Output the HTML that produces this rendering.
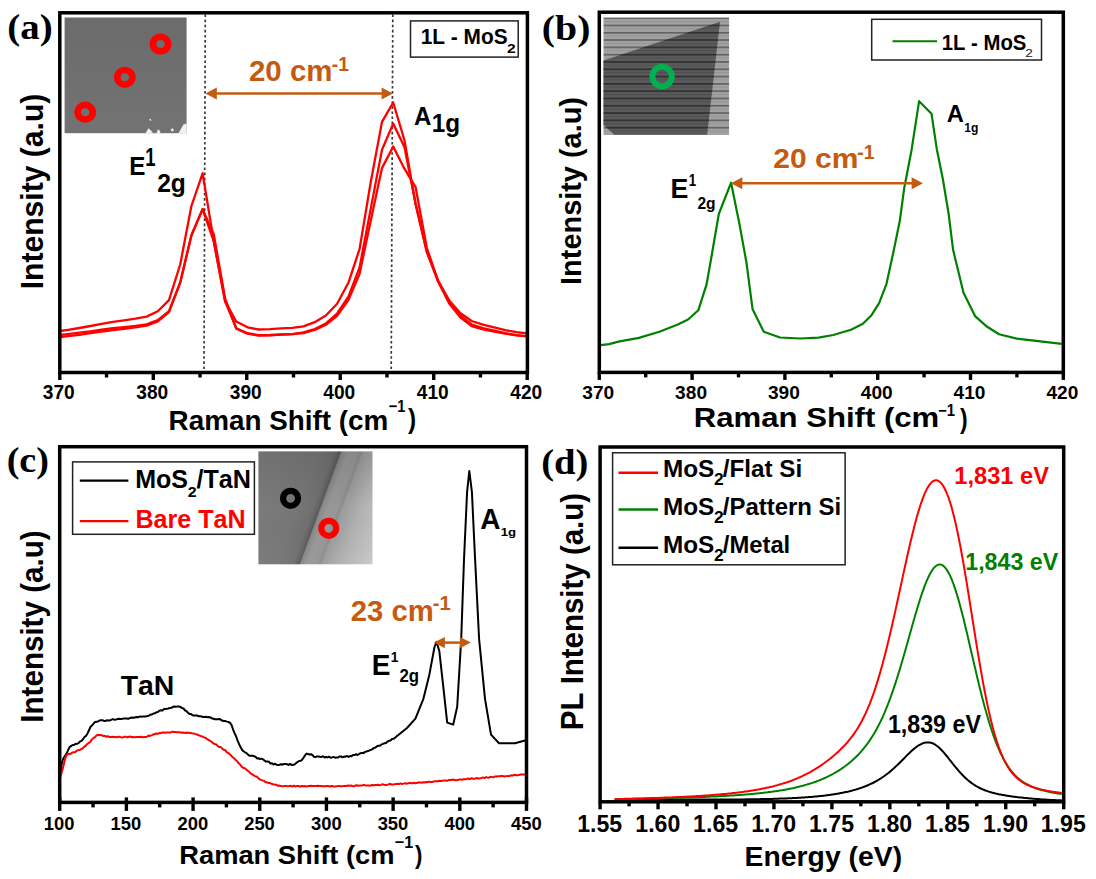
<!DOCTYPE html>
<html><head><meta charset="utf-8"><style>
html,body{margin:0;padding:0;background:#fff;}
body{width:1096px;height:879px;overflow:hidden;}
svg{display:block;font-kerning:none;}
text{font-kerning:none;}
</style></head><body>
<svg width="1096" height="879" viewBox="0 0 1096 879">
<defs>
<pattern id="stripes" patternUnits="userSpaceOnUse" x="0" y="17.3" width="8" height="7.3">
<rect width="8" height="7.3" fill="#5a5a5a"/><rect y="0" width="8" height="1.7" fill="#303030"/><rect y="3.7" width="8" height="1.0" fill="#4e4e4e"/>
</pattern>
<pattern id="stripesL" patternUnits="userSpaceOnUse" x="0" y="17.3" width="8" height="7.3">
<rect width="8" height="7.3" fill="#a2a2a2"/><rect y="0" width="8" height="1.7" fill="#626262"/><rect y="3.7" width="8" height="1.0" fill="#939393"/>
</pattern>
<linearGradient id="ga" x1="0" y1="0" x2="0" y2="1"><stop offset="0" stop-color="#6b6b6b"/><stop offset="1" stop-color="#737373"/></linearGradient>
<linearGradient id="gc" gradientUnits="userSpaceOnUse" x1="265.3" y1="423.9" x2="406.1" y2="475.5"><stop offset="0.0000" stop-color="rgb(126,126,126)"/><stop offset="0.2000" stop-color="rgb(122,122,122)"/><stop offset="0.4000" stop-color="rgb(118,118,118)"/><stop offset="0.4933" stop-color="rgb(112,112,112)"/><stop offset="0.5233" stop-color="rgb(98,98,98)"/><stop offset="0.5333" stop-color="rgb(88,88,88)"/><stop offset="0.5433" stop-color="rgb(136,136,136)"/><stop offset="0.5867" stop-color="rgb(152,152,152)"/><stop offset="0.6467" stop-color="rgb(150,150,150)"/><stop offset="0.6633" stop-color="rgb(140,140,140)"/><stop offset="0.6800" stop-color="rgb(156,156,156)"/><stop offset="0.8000" stop-color="rgb(178,178,178)"/><stop offset="1.0000" stop-color="rgb(202,202,202)"/></linearGradient>
<linearGradient id="gcv" x1="0" y1="0" x2="0" y2="1"><stop offset="0" stop-color="#000" stop-opacity="0.10"/><stop offset="0.5" stop-color="#000" stop-opacity="0"/><stop offset="1" stop-color="#fff" stop-opacity="0.03"/></linearGradient>
</defs>
<rect width="1096" height="879" fill="#fff"/>
<rect x="64.6" y="17.5" width="122" height="115.7" fill="url(#ga)"/>
<path d="M145.5,133.2 L148.5,128.2 L151,130.5 L153,133.2 Z M156.5,133.2 L158,129.3 L160,131 L160.5,133.2 Z M170.5,130 L172.5,128 L174,130.5 L172,131.5 Z M178.5,133.2 L183.5,124.5 L186.6,123.5 L186.6,133.2 Z M149,120 L150.5,118.5 L151.5,121 Z" fill="#fff" opacity="0.9"/>
<ellipse cx="160.50" cy="44.10" rx="7.60" ry="7.30" fill="none" stroke="#FF0000" stroke-width="6.6"/>
<ellipse cx="124.80" cy="77.30" rx="7.60" ry="7.30" fill="none" stroke="#FF0000" stroke-width="6.6"/>
<ellipse cx="85.20" cy="112.20" rx="7.60" ry="7.30" fill="none" stroke="#FF0000" stroke-width="6.6"/>
<line x1="205.30" y1="14.50" x2="204.00" y2="371.00" stroke="#3a3a3a" stroke-width="1.7" stroke-dasharray="2.6,2.5"/>
<line x1="392.80" y1="14.50" x2="391.20" y2="371.00" stroke="#3a3a3a" stroke-width="1.7" stroke-dasharray="2.6,2.5"/>
<polyline points="59.8,331.0 68.1,329.8 79.3,328.0 90.5,326.0 101.7,323.8 113.0,321.9 124.2,320.3 135.4,318.7 146.6,316.6 157.8,311.2 169.0,300.1 180.2,264.5 191.4,206.0 202.6,173.3 213.8,241.4 225.1,301.4 236.3,321.6 247.5,327.3 258.7,329.5 269.9,329.1 281.1,328.4 292.3,327.8 303.5,326.4 314.7,322.2 325.9,315.5 337.1,303.8 348.4,282.8 359.6,248.9 370.8,181.8 382.0,121.9 393.2,102.5 404.4,140.0 415.6,204.0 426.8,251.4 438.0,280.2 449.2,300.4 460.5,313.2 471.7,321.0 482.9,324.7 494.1,327.3 505.3,330.1 516.5,332.2 527.4,333.5" fill="none" stroke="#FF0000" stroke-width="2.3" stroke-linejoin="round" />
<polyline points="59.8,335.0 68.1,334.1 79.3,332.7 90.5,331.3 101.7,329.7 113.0,328.2 124.2,327.1 135.4,325.9 146.6,324.3 157.8,320.1 169.0,311.1 180.2,282.3 191.4,235.3 202.6,209.1 213.8,241.4 225.1,301.4 236.3,328.2 247.5,333.2 258.7,335.2 269.9,335.0 281.1,334.5 292.3,334.1 303.5,332.4 314.7,329.1 325.9,323.4 337.1,313.5 348.4,296.6 359.6,267.4 370.8,208.4 382.0,149.8 393.2,123.6 404.4,146.9 415.6,203.7 426.8,252.0 438.0,281.3 449.2,302.3 460.5,315.7 471.7,324.5 482.9,328.2 494.1,330.6 505.3,333.1 516.5,335.1 527.4,336.3" fill="none" stroke="#FF0000" stroke-width="2.3" stroke-linejoin="round" />
<polyline points="59.8,337.2 68.1,336.2 79.3,334.8 90.5,333.2 101.7,331.5 113.0,330.0 124.2,328.8 135.4,327.4 146.6,325.7 157.8,321.4 169.0,312.1 180.2,282.9 191.4,235.5 202.6,209.1 213.8,234.5 225.1,298.3 236.3,328.7 247.5,333.7 258.7,335.6 269.9,335.3 281.1,334.7 292.3,334.2 303.5,333.1 314.7,330.0 325.9,324.8 337.1,315.8 348.4,300.1 359.6,273.7 370.8,220.3 382.0,168.1 393.2,146.5 404.4,168.7 415.6,187.2 426.8,247.8 438.0,280.9 449.2,303.6 460.5,317.6 471.7,326.1 482.9,329.4 494.1,331.5 505.3,333.6 516.5,335.4 527.4,336.4" fill="none" stroke="#FF0000" stroke-width="2.3" stroke-linejoin="round" />
<rect x="59.80" y="12.80" width="467.60" height="359.70" fill="none" stroke="#000" stroke-width="3.5"/>
<line x1="59.80" y1="372.50" x2="59.80" y2="380.00" stroke="#000" stroke-width="3.4"/>
<line x1="153.28" y1="372.50" x2="153.28" y2="380.00" stroke="#000" stroke-width="3.4"/>
<line x1="246.76" y1="372.50" x2="246.76" y2="380.00" stroke="#000" stroke-width="3.4"/>
<line x1="340.24" y1="372.50" x2="340.24" y2="380.00" stroke="#000" stroke-width="3.4"/>
<line x1="433.72" y1="372.50" x2="433.72" y2="380.00" stroke="#000" stroke-width="3.4"/>
<line x1="527.20" y1="372.50" x2="527.20" y2="380.00" stroke="#000" stroke-width="3.4"/>
<line x1="106.54" y1="372.50" x2="106.54" y2="377.50" stroke="#000" stroke-width="3.4"/>
<line x1="200.02" y1="372.50" x2="200.02" y2="377.50" stroke="#000" stroke-width="3.4"/>
<line x1="293.50" y1="372.50" x2="293.50" y2="377.50" stroke="#000" stroke-width="3.4"/>
<line x1="386.98" y1="372.50" x2="386.98" y2="377.50" stroke="#000" stroke-width="3.4"/>
<line x1="480.46" y1="372.50" x2="480.46" y2="377.50" stroke="#000" stroke-width="3.4"/>
<text transform="translate(43.25,398.50) scale(0.9824,1)" x="-0.45" y="0" font-size="19.48" font-family='"Liberation Sans", sans-serif' font-weight="bold" fill="#000">370</text>
<text transform="translate(136.73,398.50) scale(0.9824,1)" x="-0.45" y="0" font-size="19.48" font-family='"Liberation Sans", sans-serif' font-weight="bold" fill="#000">380</text>
<text transform="translate(230.21,398.50) scale(0.9824,1)" x="-0.45" y="0" font-size="19.48" font-family='"Liberation Sans", sans-serif' font-weight="bold" fill="#000">390</text>
<text transform="translate(323.62,398.50) scale(0.9824,1)" x="-0.29" y="0" font-size="19.48" font-family='"Liberation Sans", sans-serif' font-weight="bold" fill="#000">400</text>
<text transform="translate(417.10,398.50) scale(0.9824,1)" x="-0.29" y="0" font-size="19.48" font-family='"Liberation Sans", sans-serif' font-weight="bold" fill="#000">410</text>
<text transform="translate(510.58,398.50) scale(0.9824,1)" x="-0.29" y="0" font-size="19.48" font-family='"Liberation Sans", sans-serif' font-weight="bold" fill="#000">420</text>
<text transform="translate(9.00,38.80) scale(1.0769,1)" x="-1.59" y="0" font-size="36.17" font-family='"Liberation Serif", serif' font-weight="bold" fill="#000">(a)</text>
<text transform="translate(42.60,287.30) rotate(-90) scale(0.9776,1)" x="-2.06" y="0" font-size="30.81" font-family='"Liberation Sans", sans-serif' font-weight="bold" fill="#000">Intensity (a.u)</text>
<text transform="translate(170.40,429.50) scale(1.0249,1)" x="-1.82" y="0" font-size="27.18" font-family='"Liberation Sans", sans-serif' font-weight="bold" fill="#000">Raman Shift (cm</text>
<text transform="translate(389.30,412.10) scale(0.8792,1)" x="-0.69" y="0" font-size="16.57" font-family='"Liberation Sans", sans-serif' font-weight="bold" fill="#000">−1</text>
<text transform="translate(408.00,428.43) scale(0.9116,1)" x="-0.03" y="0" font-size="26.82" font-family='"Liberation Sans", sans-serif' font-weight="bold" fill="#000">)</text>
<line x1="215.80" y1="93.50" x2="382.60" y2="93.50" stroke="#C55A11" stroke-width="2.5"/>
<path d="M205.40,93.50 L216.80,87.50 L216.80,99.50 Z" fill="#C55A11"/>
<path d="M393.00,93.50 L381.60,87.50 L381.60,99.50 Z" fill="#C55A11"/>
<text transform="translate(250.00,81.30) scale(1.0135,1)" x="-1.01" y="0" font-size="29.07" font-family='"Liberation Sans", sans-serif' font-weight="bold" fill="#C55A11">20 cm</text>
<text transform="translate(332.50,70.90) scale(0.9711,1)" x="-0.78" y="0" font-size="19.91" font-family='"Liberation Sans", sans-serif' font-weight="bold" fill="#C55A11">-1</text>
<rect x="410.5" y="20.9" width="107.7" height="36.2" fill="#fff" stroke="#222" stroke-width="1.5"/>
<text transform="translate(422.00,44.30) scale(0.9506,1)" x="-1.38" y="0" font-size="21.95" font-family='"Liberation Sans", sans-serif' font-weight="bold" fill="#000">1L - MoS</text>
<text transform="translate(507.50,53.00) scale(1.1450,1)" x="-0.47" y="0" font-size="13.61" font-family='"Liberation Sans", sans-serif' font-weight="bold" fill="#000">2</text>
<text transform="translate(130.90,175.40) scale(0.9317,1)" x="-1.74" y="0" font-size="26.02" font-family='"Liberation Sans", sans-serif' font-weight="bold" fill="#000">E</text>
<text transform="translate(146.30,166.30) scale(0.7266,1)" x="-1.60" y="0" font-size="25.44" font-family='"Liberation Sans", sans-serif' font-weight="bold" fill="#000">1</text>
<text transform="translate(158.00,191.80) scale(0.9812,1)" x="-0.87" y="0" font-size="25.06" font-family='"Liberation Sans", sans-serif' font-weight="bold" fill="#000">2g</text>
<text transform="translate(414.60,125.30) scale(0.9599,1)" x="-0.62" y="0" font-size="25.00" font-family='"Liberation Sans", sans-serif' font-weight="bold" fill="#000">A</text>
<text transform="translate(433.20,131.50) scale(0.9719,1)" x="-1.57" y="0" font-size="25.00" font-family='"Liberation Sans", sans-serif' font-weight="bold" fill="#000">1g</text>
<rect x="603.5" y="17.5" width="125.6" height="117.1" fill="url(#stripesL)"/>
<path d="M603.5,60.5 L720,21.8 L707.2,134.6 L614,134.6 L603.5,125 Z" fill="url(#stripes)"/>
<circle cx="662.10" cy="76.50" r="9.70" fill="none" stroke="#00B050" stroke-width="6"/>
<polyline points="600.5,345.1 609.2,344.1 618.4,341.6 638.9,337.9 659.4,331.8 677.8,324.6 688.1,319.5 698.3,310.3 706.5,284.7 711.6,256.0 718.8,214.0 731.1,182.7 739.3,223.2 746.4,262.2 752.6,309.3 763.8,331.8 780.0,337.5 800.0,338.5 818.5,337.6 833.3,335.0 851.0,329.7 862.9,323.8 871.7,314.9 879.1,303.1 886.5,283.8 893.9,249.8 899.9,220.2 904.3,187.7 911.7,149.2 919.1,101.2 931.5,113.7 936.8,149.2 942.8,178.8 948.7,214.3 953.1,249.8 963.5,292.7 975.3,316.4 987.2,326.8 999.0,334.2 1016.8,338.6 1061.8,343.9" fill="none" stroke="#008000" stroke-width="2.2" stroke-linejoin="round" />
<rect x="599.30" y="12.20" width="464.00" height="360.20" fill="none" stroke="#000" stroke-width="3.5"/>
<line x1="599.30" y1="372.40" x2="599.30" y2="379.90" stroke="#000" stroke-width="3.4"/>
<line x1="692.10" y1="372.40" x2="692.10" y2="379.90" stroke="#000" stroke-width="3.4"/>
<line x1="784.90" y1="372.40" x2="784.90" y2="379.90" stroke="#000" stroke-width="3.4"/>
<line x1="877.70" y1="372.40" x2="877.70" y2="379.90" stroke="#000" stroke-width="3.4"/>
<line x1="970.50" y1="372.40" x2="970.50" y2="379.90" stroke="#000" stroke-width="3.4"/>
<line x1="1063.30" y1="372.40" x2="1063.30" y2="379.90" stroke="#000" stroke-width="3.4"/>
<line x1="645.70" y1="372.40" x2="645.70" y2="377.40" stroke="#000" stroke-width="3.4"/>
<line x1="738.50" y1="372.40" x2="738.50" y2="377.40" stroke="#000" stroke-width="3.4"/>
<line x1="831.30" y1="372.40" x2="831.30" y2="377.40" stroke="#000" stroke-width="3.4"/>
<line x1="924.10" y1="372.40" x2="924.10" y2="377.40" stroke="#000" stroke-width="3.4"/>
<line x1="1016.90" y1="372.40" x2="1016.90" y2="377.40" stroke="#000" stroke-width="3.4"/>
<text transform="translate(582.75,398.50) scale(1.0688,1)" x="-0.41" y="0" font-size="17.90" font-family='"Liberation Sans", sans-serif' font-weight="bold" fill="#000">370</text>
<text transform="translate(675.55,398.50) scale(1.0688,1)" x="-0.41" y="0" font-size="17.90" font-family='"Liberation Sans", sans-serif' font-weight="bold" fill="#000">380</text>
<text transform="translate(768.35,398.50) scale(1.0688,1)" x="-0.41" y="0" font-size="17.90" font-family='"Liberation Sans", sans-serif' font-weight="bold" fill="#000">390</text>
<text transform="translate(861.08,398.50) scale(1.0688,1)" x="-0.27" y="0" font-size="17.90" font-family='"Liberation Sans", sans-serif' font-weight="bold" fill="#000">400</text>
<text transform="translate(953.88,398.50) scale(1.0688,1)" x="-0.27" y="0" font-size="17.90" font-family='"Liberation Sans", sans-serif' font-weight="bold" fill="#000">410</text>
<text transform="translate(1046.68,398.50) scale(1.0688,1)" x="-0.27" y="0" font-size="17.90" font-family='"Liberation Sans", sans-serif' font-weight="bold" fill="#000">420</text>
<text transform="translate(543.60,39.89) scale(1.1242,1)" x="-1.55" y="0" font-size="35.29" font-family='"Liberation Serif", serif' font-weight="bold" fill="#000">(b)</text>
<text transform="translate(581.20,283.00) rotate(-90) scale(0.9658,1)" x="-2.00" y="0" font-size="29.94" font-family='"Liberation Sans", sans-serif' font-weight="bold" fill="#000">Intensity (a.u)</text>
<text transform="translate(695.80,427.10) scale(1.1576,1)" x="-1.80" y="0" font-size="26.89" font-family='"Liberation Sans", sans-serif' font-weight="bold" fill="#000">Raman Shift (cm</text>
<text transform="translate(938.70,415.50) scale(0.9372,1)" x="-0.66" y="0" font-size="15.84" font-family='"Liberation Sans", sans-serif' font-weight="bold" fill="#000">−1</text>
<text transform="translate(960.00,427.98) scale(0.8353,1)" x="-0.03" y="0" font-size="27.57" font-family='"Liberation Sans", sans-serif' font-weight="bold" fill="#000">)</text>
<line x1="741.30" y1="183.20" x2="912.60" y2="183.20" stroke="#C55A11" stroke-width="2.5"/>
<path d="M730.90,183.20 L742.30,177.20 L742.30,189.20 Z" fill="#C55A11"/>
<path d="M923.00,183.20 L911.60,177.20 L911.60,189.20 Z" fill="#C55A11"/>
<text transform="translate(774.30,168.30) scale(1.0692,1)" x="-0.97" y="0" font-size="28.07" font-family='"Liberation Sans", sans-serif' font-weight="bold" fill="#C55A11">20 cm</text>
<text transform="translate(858.00,158.50) scale(0.9916,1)" x="-0.77" y="0" font-size="19.62" font-family='"Liberation Sans", sans-serif' font-weight="bold" fill="#C55A11">-1</text>
<rect x="871.7" y="19.3" width="169.8" height="40.7" fill="#fff" stroke="#222" stroke-width="1.5"/>
<line x1="892.50" y1="41.20" x2="937.00" y2="41.20" stroke="#008000" stroke-width="2" />
<text transform="translate(943.00,49.60) scale(0.9321,1)" x="-1.37" y="0" font-size="21.80" font-family='"Liberation Sans", sans-serif' font-weight="bold" fill="#000">1L - MoS</text>
<text transform="translate(1026.00,56.80) scale(1.2504,1)" x="-0.55" y="0" font-size="10.88" font-family='"Liberation Sans", sans-serif' font-weight="normal" fill="#222">2</text>
<text transform="translate(672.40,198.30) scale(0.9681,1)" x="-1.85" y="0" font-size="27.62" font-family='"Liberation Sans", sans-serif' font-weight="bold" fill="#000">E</text>
<text transform="translate(689.60,185.50) scale(0.8112,1)" x="-1.03" y="0" font-size="16.42" font-family='"Liberation Sans", sans-serif' font-weight="bold" fill="#000">1</text>
<text transform="translate(698.00,208.50) scale(0.9627,1)" x="-0.56" y="0" font-size="16.18" font-family='"Liberation Sans", sans-serif' font-weight="bold" fill="#000">2g</text>
<text transform="translate(947.40,121.60) scale(1.0127,1)" x="-0.58" y="0" font-size="23.40" font-family='"Liberation Sans", sans-serif' font-weight="bold" fill="#000">A</text>
<text transform="translate(965.10,131.60) scale(1.0112,1)" x="-0.75" y="0" font-size="11.92" font-family='"Liberation Sans", sans-serif' font-weight="bold" fill="#000">1g</text>
<rect x="258.4" y="451.4" width="114.1" height="112.9" fill="url(#gc)"/>
<rect x="258.4" y="451.4" width="114.1" height="112.9" fill="url(#gcv)"/>
<circle cx="290.60" cy="498.30" r="7.50" fill="none" stroke="#000" stroke-width="6.2"/>
<circle cx="328.80" cy="528.30" r="7.50" fill="none" stroke="#FF0000" stroke-width="6.2"/>
<polyline points="60.5,772.1 62.0,762.3 63.5,758.0 65.0,755.9 66.5,753.4 68.0,750.4 69.5,747.1 71.0,746.1 72.5,745.1 74.0,745.0 75.5,743.9 77.0,743.8 78.5,743.1 80.0,741.5 81.5,740.9 83.0,739.3 84.5,737.0 86.0,735.9 87.5,733.4 89.0,730.3 90.5,726.8 92.0,725.4 93.5,723.6 95.0,722.0 96.5,721.7 98.0,721.5 99.5,720.5 101.0,720.2 102.5,720.3 104.0,720.9 105.5,720.9 107.0,720.3 108.5,720.6 110.0,720.4 111.5,719.6 113.0,719.1 114.5,719.7 116.0,719.5 117.5,719.1 119.0,718.8 120.5,718.9 122.0,718.9 123.5,718.5 125.0,718.4 126.5,718.4 128.0,718.9 129.5,718.3 131.0,717.8 132.5,717.6 134.0,717.7 135.5,717.2 137.0,717.0 138.5,717.2 140.0,716.4 141.5,716.8 143.0,716.4 144.5,716.6 146.0,716.4 147.5,716.0 149.0,715.6 150.5,714.6 152.0,714.5 153.5,713.5 155.0,713.2 156.5,712.3 158.0,711.9 159.5,710.6 161.0,710.2 162.5,710.6 164.0,708.9 165.5,709.1 167.0,708.7 168.5,708.5 170.0,707.9 171.5,707.8 173.0,706.8 174.5,706.6 176.0,706.7 177.5,706.5 179.0,706.5 180.5,706.9 182.0,708.1 183.5,708.4 185.0,710.3 186.5,711.2 188.0,712.7 189.5,714.1 191.0,713.9 192.5,715.3 194.0,715.5 195.5,715.6 197.0,715.5 198.5,716.2 200.0,716.3 201.5,716.4 203.0,717.0 204.5,716.9 206.0,716.8 207.5,717.3 209.0,717.1 210.5,717.4 212.0,718.4 213.5,718.7 215.0,719.2 216.5,719.3 218.0,719.2 219.5,718.9 221.0,719.8 222.5,720.8 224.0,721.1 225.5,721.1 227.0,721.6 228.5,722.0 230.0,722.8 231.5,724.8 233.0,729.3 234.5,733.0 236.0,736.2 237.5,740.3 239.0,743.8 240.5,747.1 242.0,749.7 243.5,751.2 245.0,752.3 246.5,753.1 248.0,754.6 249.5,755.8 251.0,755.8 252.5,755.8 254.0,756.3 255.5,756.8 257.0,758.4 258.5,758.2 260.0,759.1 261.5,758.6 263.0,759.3 264.5,760.6 266.0,761.6 267.5,761.5 269.0,761.8 270.5,763.5 272.0,763.3 273.5,764.4 275.0,763.8 276.5,764.7 278.0,764.9 279.5,764.7 281.0,764.2 282.5,764.7 284.0,763.9 285.5,764.1 287.0,764.3 288.5,764.9 290.0,763.9 291.5,764.9 293.0,764.7 294.5,764.6 296.0,763.1 297.5,762.0 299.0,761.0 300.5,760.8 302.0,759.9 303.5,757.7 305.0,755.4 306.5,753.6 308.0,754.0 309.5,754.5 311.0,754.2 312.5,755.2 314.0,756.8 315.5,757.1 317.0,756.4 318.5,756.4 320.0,756.7 321.5,756.9 323.0,756.3 324.5,757.4 326.0,757.0 327.5,757.4 329.0,756.7 330.5,757.7 332.0,757.4 333.5,756.9 335.0,757.7 336.5,757.4 338.0,757.6 339.5,756.5 341.0,756.4 342.5,757.3 344.0,756.6 345.5,756.7 347.0,756.0 348.5,756.9 350.0,756.0 351.5,756.2 353.0,754.9 354.5,755.1 356.0,754.2 357.5,755.0 359.0,754.1 360.5,753.2 362.0,752.9 363.5,753.1 365.0,751.9 366.5,751.4 368.0,751.1 369.5,750.4 371.0,749.8 372.5,749.1 374.0,747.9 375.5,747.5 377.0,746.2 378.5,745.7 380.0,745.8 381.5,744.4 383.0,743.9 384.5,743.3 386.0,743.0 387.5,741.6 389.0,740.8 390.5,740.5 392.0,739.1 393.5,738.8 395.0,737.9 396.5,736.4 398.0,735.3 407.0,728.0 415.4,718.7 423.4,698.8 429.3,674.9 434.5,647.0 436.5,641.9 439.3,651.0 443.3,686.8 447.2,722.6 453.2,724.6 457.2,706.7 461.2,639.1 464.0,559.5 467.1,491.8 469.3,471.0 471.9,491.8 475.1,559.5 479.1,639.1 485.0,698.8 491.0,734.6 499.0,743.3 514.9,743.3 525.0,740.5" fill="none" stroke="#000" stroke-width="2.0" stroke-linejoin="round" />
<polyline points="60.0,777.9 61.5,772.7 63.0,767.9 64.5,761.3 66.0,756.0 67.5,754.3 69.0,753.8 70.5,753.9 72.0,752.8 73.5,752.3 75.0,752.2 76.5,751.0 78.0,750.2 79.5,750.1 81.0,749.2 82.5,748.5 84.0,746.8 85.5,746.0 87.0,744.2 88.5,743.1 90.0,742.2 91.5,739.9 93.0,738.4 94.5,737.4 96.0,736.1 97.5,734.8 99.0,735.0 100.5,735.1 102.0,735.3 103.5,736.1 105.0,735.9 106.5,736.8 108.0,736.2 109.5,737.1 111.0,736.9 112.5,736.8 114.0,737.0 115.5,736.9 117.0,737.2 118.5,736.6 120.0,737.0 121.5,737.4 123.0,737.4 124.5,736.7 126.0,736.8 127.5,737.4 129.0,736.8 130.5,736.6 132.0,737.2 133.5,736.9 135.0,737.2 136.5,737.0 138.0,737.0 139.5,736.9 141.0,736.8 142.5,737.4 144.0,737.0 145.5,736.9 147.0,736.7 148.5,735.6 150.0,735.9 151.5,735.4 153.0,734.6 154.5,734.3 156.0,733.5 157.5,733.9 159.0,733.1 160.5,733.2 162.0,732.6 163.5,732.4 165.0,732.7 166.5,732.4 168.0,732.5 169.5,732.4 171.0,732.5 172.5,731.6 174.0,732.1 175.5,732.1 177.0,732.2 178.5,732.2 180.0,732.3 181.5,732.7 183.0,732.4 184.5,732.7 186.0,733.0 187.5,732.5 189.0,733.0 190.5,732.9 192.0,733.2 193.5,733.4 195.0,733.9 196.5,734.3 198.0,735.0 199.5,735.5 201.0,736.2 202.5,736.4 204.0,737.5 205.5,737.8 207.0,739.1 208.5,739.9 210.0,740.9 211.5,741.6 213.0,743.2 214.5,744.0 216.0,744.3 217.5,745.7 219.0,747.0 220.5,747.0 222.0,748.3 223.5,749.7 225.0,750.0 226.5,751.8 228.0,752.8 229.5,754.1 231.0,755.3 232.5,757.2 234.0,758.1 235.5,759.9 237.0,761.0 238.5,763.1 240.0,764.4 241.5,766.4 243.0,767.7 244.5,768.1 246.0,769.2 247.5,770.5 249.0,771.7 250.5,773.4 252.0,774.2 253.5,775.2 255.0,776.1 256.5,776.5 258.0,777.8 259.5,779.3 261.0,779.9 262.5,780.4 264.0,780.8 265.5,782.2 267.0,782.3 268.5,783.0 270.0,783.1 271.5,783.7 273.0,784.2 274.5,784.6 276.0,784.7 277.5,785.7 279.0,785.5 280.5,786.1 282.0,786.2 283.5,786.3 285.0,785.9 286.5,785.9 288.0,786.4 289.5,786.0 291.0,785.8 292.5,786.5 294.0,785.6 295.5,786.5 297.0,785.9 298.5,786.0 300.0,786.6 301.5,786.0 303.0,786.3 304.5,786.0 306.0,786.5 307.5,786.3 309.0,786.1 310.5,785.7 312.0,786.0 313.5,786.1 315.0,785.9 316.5,786.1 318.0,785.8 319.5,786.1 321.0,786.1 322.5,786.3 324.0,786.3 325.5,786.3 327.0,786.0 328.5,786.1 330.0,786.5 331.5,786.0 333.0,786.3 334.5,786.6 336.0,786.5 337.5,786.1 339.0,785.9 340.5,786.2 342.0,786.2 343.5,786.1 345.0,785.9 346.5,786.0 348.0,785.5 349.5,785.7 351.0,785.5 352.5,786.0 354.0,786.3 355.5,785.4 357.0,785.3 358.5,785.9 360.0,785.5 361.5,785.6 363.0,785.1 364.5,785.1 366.0,785.6 367.5,785.5 369.0,785.6 370.5,785.7 372.0,785.0 373.5,785.2 375.0,785.0 376.5,785.0 378.0,784.8 379.5,785.3 381.0,784.9 382.5,784.3 384.0,784.8 385.5,785.0 387.0,784.8 388.5,784.4 390.0,783.8 391.5,784.5 393.0,784.6 394.5,784.3 396.0,783.9 397.5,783.8 399.0,784.1 400.5,783.4 402.0,784.0 403.5,783.6 405.0,783.1 406.5,783.8 408.0,783.3 409.5,782.9 411.0,782.9 412.5,783.4 414.0,782.7 415.5,783.2 417.0,783.1 418.5,782.3 420.0,782.5 421.5,782.8 423.0,782.3 424.5,782.6 426.0,782.0 427.5,782.2 429.0,781.6 430.5,782.1 432.0,782.0 433.5,781.6 435.0,781.3 436.5,781.2 438.0,781.3 439.5,780.7 441.0,781.0 442.5,780.7 444.0,780.6 445.5,780.5 447.0,780.9 448.5,780.1 450.0,780.0 451.5,779.9 453.0,779.6 454.5,779.9 456.0,780.2 457.5,780.1 459.0,779.6 460.5,779.4 462.0,779.8 463.5,779.3 465.0,779.2 466.5,779.2 468.0,778.5 469.5,779.2 471.0,778.3 472.5,778.6 474.0,778.9 475.5,778.4 477.0,778.1 478.5,778.4 480.0,778.4 481.5,778.0 483.0,777.4 484.5,778.1 486.0,777.1 487.5,777.6 489.0,777.7 490.5,776.9 492.0,777.1 493.5,777.2 495.0,776.5 496.5,776.5 498.0,776.2 499.5,776.2 501.0,776.0 502.5,776.0 504.0,776.4 505.5,776.2 507.0,776.1 508.5,775.9 510.0,775.9 511.5,775.2 513.0,775.5 514.5,774.8 516.0,775.1 517.5,775.4 519.0,774.9 520.5,774.6 522.0,774.4 523.5,774.4 525.0,774.8" fill="none" stroke="#FF0000" stroke-width="2.0" stroke-linejoin="round" />
<rect x="59.70" y="446.70" width="466.80" height="355.70" fill="none" stroke="#000" stroke-width="3.5"/>
<line x1="59.70" y1="797.40" x2="59.70" y2="810.90" stroke="#000" stroke-width="3.4"/>
<line x1="126.39" y1="797.40" x2="126.39" y2="810.90" stroke="#000" stroke-width="3.4"/>
<line x1="193.07" y1="797.40" x2="193.07" y2="810.90" stroke="#000" stroke-width="3.4"/>
<line x1="259.75" y1="797.40" x2="259.75" y2="810.90" stroke="#000" stroke-width="3.4"/>
<line x1="326.44" y1="797.40" x2="326.44" y2="810.90" stroke="#000" stroke-width="3.4"/>
<line x1="393.12" y1="797.40" x2="393.12" y2="810.90" stroke="#000" stroke-width="3.4"/>
<line x1="459.81" y1="797.40" x2="459.81" y2="810.90" stroke="#000" stroke-width="3.4"/>
<line x1="526.50" y1="797.40" x2="526.50" y2="810.90" stroke="#000" stroke-width="3.4"/>
<line x1="93.04" y1="802.40" x2="93.04" y2="807.40" stroke="#000" stroke-width="3.4"/>
<line x1="159.73" y1="802.40" x2="159.73" y2="807.40" stroke="#000" stroke-width="3.4"/>
<line x1="226.41" y1="802.40" x2="226.41" y2="807.40" stroke="#000" stroke-width="3.4"/>
<line x1="293.10" y1="802.40" x2="293.10" y2="807.40" stroke="#000" stroke-width="3.4"/>
<line x1="359.78" y1="802.40" x2="359.78" y2="807.40" stroke="#000" stroke-width="3.4"/>
<line x1="426.47" y1="802.40" x2="426.47" y2="807.40" stroke="#000" stroke-width="3.4"/>
<line x1="493.15" y1="802.40" x2="493.15" y2="807.40" stroke="#000" stroke-width="3.4"/>
<text transform="translate(45.00,830.00) scale(1.0297,1)" x="-1.13" y="0" font-size="17.88" font-family='"Liberation Sans", sans-serif' font-weight="bold" fill="#000">100</text>
<text transform="translate(111.69,830.00) scale(1.0297,1)" x="-1.13" y="0" font-size="17.88" font-family='"Liberation Sans", sans-serif' font-weight="bold" fill="#000">150</text>
<text transform="translate(178.11,830.00) scale(1.0297,1)" x="-0.62" y="0" font-size="17.88" font-family='"Liberation Sans", sans-serif' font-weight="bold" fill="#000">200</text>
<text transform="translate(244.79,830.00) scale(1.0297,1)" x="-0.62" y="0" font-size="17.88" font-family='"Liberation Sans", sans-serif' font-weight="bold" fill="#000">250</text>
<text transform="translate(311.37,830.00) scale(1.0297,1)" x="-0.41" y="0" font-size="17.88" font-family='"Liberation Sans", sans-serif' font-weight="bold" fill="#000">300</text>
<text transform="translate(378.06,830.00) scale(1.0297,1)" x="-0.41" y="0" font-size="17.88" font-family='"Liberation Sans", sans-serif' font-weight="bold" fill="#000">350</text>
<text transform="translate(444.67,830.00) scale(1.0297,1)" x="-0.27" y="0" font-size="17.88" font-family='"Liberation Sans", sans-serif' font-weight="bold" fill="#000">400</text>
<text transform="translate(511.35,830.00) scale(1.0297,1)" x="-0.27" y="0" font-size="17.88" font-family='"Liberation Sans", sans-serif' font-weight="bold" fill="#000">450</text>
<text transform="translate(8.30,472.41) scale(1.0422,1)" x="-1.61" y="0" font-size="36.61" font-family='"Liberation Serif", serif' font-weight="bold" fill="#000">(c)</text>
<text transform="translate(43.00,720.70) rotate(-90) scale(0.9603,1)" x="-2.06" y="0" font-size="30.81" font-family='"Liberation Sans", sans-serif' font-weight="bold" fill="#000">Intensity (a.u)</text>
<text transform="translate(181.10,863.70) scale(1.0435,1)" x="-1.75" y="0" font-size="26.16" font-family='"Liberation Sans", sans-serif' font-weight="bold" fill="#000">Raman Shift (cm</text>
<text transform="translate(395.40,847.50) scale(0.9582,1)" x="-0.70" y="0" font-size="16.86" font-family='"Liberation Sans", sans-serif' font-weight="bold" fill="#000">−1</text>
<text transform="translate(415.00,863.55) scale(0.8493,1)" x="-0.03" y="0" font-size="26.28" font-family='"Liberation Sans", sans-serif' font-weight="bold" fill="#000">)</text>
<rect x="72.6" y="461.9" width="181.8" height="72.4" fill="#fff" stroke="#222" stroke-width="1.5"/>
<line x1="79.80" y1="480.60" x2="128.40" y2="480.60" stroke="#000" stroke-width="2.2" />
<line x1="79.80" y1="521.10" x2="128.40" y2="521.10" stroke="#FF0000" stroke-width="2.2" />
<text transform="translate(136.80,487.80) scale(0.9465,1)" x="-1.77" y="0" font-size="26.45" font-family='"Liberation Sans", sans-serif' font-weight="bold" fill="#000">MoS</text>
<text transform="translate(188.20,496.90) scale(1.1513,1)" x="-0.48" y="0" font-size="13.89" font-family='"Liberation Sans", sans-serif' font-weight="bold" fill="#000">2</text>
<text transform="translate(196.70,487.80) scale(0.9496,1)" x="-0.26" y="0" font-size="26.45" font-family='"Liberation Sans", sans-serif' font-weight="bold" fill="#000">/TaN</text>
<text transform="translate(137.10,528.30) scale(0.9442,1)" x="-1.78" y="0" font-size="26.60" font-family='"Liberation Sans", sans-serif' font-weight="bold" fill="#FF0000">Bare TaN</text>
<text transform="translate(121.00,694.50) scale(1.0300,1)" x="-0.31" y="0" font-size="27.62" font-family='"Liberation Sans", sans-serif' font-weight="bold" fill="#000">TaN</text>
<line x1="443.90" y1="642.60" x2="460.90" y2="642.60" stroke="#C55A11" stroke-width="2.5"/>
<path d="M433.90,642.60 L444.90,636.90 L444.90,648.30 Z" fill="#C55A11"/>
<path d="M470.90,642.60 L459.90,636.90 L459.90,648.30 Z" fill="#C55A11"/>
<text transform="translate(351.80,620.90) scale(0.9974,1)" x="-1.02" y="0" font-size="29.36" font-family='"Liberation Sans", sans-serif' font-weight="bold" fill="#C55A11">23 cm</text>
<text transform="translate(433.50,610.00) scale(1.0288,1)" x="-0.77" y="0" font-size="19.62" font-family='"Liberation Sans", sans-serif' font-weight="bold" fill="#C55A11">-1</text>
<text transform="translate(373.50,674.50) scale(0.9724,1)" x="-1.93" y="0" font-size="28.78" font-family='"Liberation Sans", sans-serif' font-weight="bold" fill="#000">E</text>
<text transform="translate(391.70,662.40) scale(0.9277,1)" x="-0.93" y="0" font-size="14.83" font-family='"Liberation Sans", sans-serif' font-weight="bold" fill="#000">1</text>
<text transform="translate(400.00,682.20) scale(0.9616,1)" x="-0.61" y="0" font-size="17.47" font-family='"Liberation Sans", sans-serif' font-weight="bold" fill="#000">2g</text>
<text transform="translate(481.00,528.80) scale(0.9688,1)" x="-0.72" y="0" font-size="28.92" font-family='"Liberation Sans", sans-serif' font-weight="bold" fill="#000">A</text>
<text transform="translate(501.50,535.70) scale(1.2281,1)" x="-0.68" y="0" font-size="10.76" font-family='"Liberation Sans", sans-serif' font-weight="bold" fill="#000">1g</text>
<polyline points="614.7,800.0 615.7,800.0 616.7,800.0 617.7,799.9 618.7,799.9 619.7,799.9 620.7,799.9 621.7,799.9 622.7,799.9 623.7,799.9 624.7,799.8 625.7,799.8 626.7,799.8 627.7,799.8 628.7,799.8 629.7,799.8 630.7,799.8 631.7,799.8 632.7,799.7 633.7,799.7 634.7,799.7 635.7,799.7 636.7,799.7 637.7,799.7 638.7,799.7 639.7,799.7 640.7,799.7 641.7,799.7 642.7,799.7 643.7,799.6 644.7,799.6 645.7,799.6 646.7,799.6 647.7,799.6 648.7,799.6 649.7,799.6 650.7,799.6 651.7,799.6 652.7,799.6 653.7,799.6 654.7,799.6 655.7,799.6 656.7,799.6 657.7,799.6 658.7,799.5 659.7,799.5 660.7,799.5 661.7,799.5 662.7,799.5 663.7,799.5 664.7,799.5 665.7,799.5 666.7,799.5 667.7,799.5 668.7,799.5 669.7,799.5 670.7,799.5 671.7,799.5 672.7,799.5 673.7,799.5 674.7,799.5 675.7,799.5 676.7,799.5 677.7,799.5 678.7,799.5 679.7,799.5 680.7,799.5 681.7,799.5 682.7,799.5 683.7,799.5 684.7,799.5 685.7,799.5 686.7,799.5 687.7,799.5 688.7,799.5 689.7,799.5 690.7,799.5 691.7,799.5 692.7,799.5 693.7,799.5 694.7,799.5 695.7,799.5 696.7,799.5 697.7,799.5 698.7,799.5 699.7,799.5 700.7,799.5 701.7,799.5 702.7,799.5 703.7,799.5 704.7,799.5 705.7,799.5 706.7,799.5 707.7,799.5 708.7,799.5 709.7,799.5 710.7,799.5 711.7,799.5 712.7,799.5 713.7,799.5 714.7,799.5 715.7,799.5 716.7,799.5 717.7,799.5 718.7,799.5 719.7,799.5 720.7,799.5 721.7,799.5 722.7,799.5 723.7,799.5 724.7,799.5 725.7,799.5 726.7,799.5 727.7,799.5 728.7,799.5 729.7,799.5 730.7,799.5 731.7,799.5 732.7,799.4 733.7,799.4 734.7,799.4 735.7,799.4 736.7,799.4 737.7,799.4 738.7,799.4 739.7,799.4 740.7,799.4 741.7,799.4 742.7,799.4 743.7,799.4 744.7,799.4 745.7,799.3 746.7,799.3 747.7,799.3 748.7,799.3 749.7,799.3 750.7,799.3 751.7,799.3 752.7,799.3 753.7,799.2 754.7,799.2 755.7,799.2 756.7,799.2 757.7,799.2 758.7,799.2 759.7,799.2 760.7,799.1 761.7,799.1 762.7,799.1 763.7,799.1 764.7,799.1 765.7,799.0 766.7,799.0 767.7,799.0 768.7,799.0 769.7,798.9 770.7,798.9 771.7,798.9 772.7,798.9 773.7,798.8 774.7,798.8 775.7,798.8 776.7,798.7 777.7,798.7 778.7,798.7 779.7,798.6 780.7,798.6 781.7,798.6 782.7,798.5 783.7,798.5 784.7,798.5 785.7,798.4 786.7,798.4 787.7,798.3 788.7,798.3 789.7,798.2 790.7,798.2 791.7,798.2 792.7,798.1 793.7,798.1 794.7,798.0 795.7,797.9 796.7,797.9 797.7,797.8 798.7,797.8 799.7,797.7 800.7,797.7 801.7,797.6 802.7,797.5 803.7,797.5 804.7,797.4 805.7,797.3 806.7,797.3 807.7,797.2 808.7,797.1 809.7,797.0 810.7,796.9 811.7,796.9 812.7,796.8 813.7,796.7 814.7,796.6 815.7,796.5 816.7,796.4 817.7,796.3 818.7,796.2 819.7,796.1 820.7,796.0 821.7,795.9 822.7,795.8 823.7,795.7 824.7,795.6 825.7,795.4 826.7,795.3 827.7,795.2 828.7,795.0 829.7,794.9 830.7,794.8 831.7,794.6 832.7,794.5 833.7,794.3 834.7,794.2 835.7,794.0 836.7,793.8 837.7,793.7 838.7,793.5 839.7,793.3 840.7,793.1 841.7,792.9 842.7,792.7 843.7,792.5 844.7,792.3 845.7,792.1 846.7,791.9 847.7,791.7 848.7,791.4 849.7,791.2 850.7,790.9 851.7,790.7 852.7,790.4 853.7,790.1 854.7,789.9 855.7,789.6 856.7,789.3 857.7,789.0 858.7,788.6 859.7,788.3 860.7,788.0 861.7,787.6 862.7,787.3 863.7,786.9 864.7,786.5 865.7,786.1 866.7,785.7 867.7,785.3 868.7,784.9 869.7,784.4 870.7,783.9 871.7,783.5 872.7,783.0 873.7,782.5 874.7,782.0 875.7,781.4 876.7,780.9 877.7,780.3 878.7,779.7 879.7,779.1 880.7,778.5 881.7,777.8 882.7,777.1 883.7,776.5 884.7,775.7 885.7,775.0 886.7,774.3 887.7,773.5 888.7,772.7 889.7,771.9 890.7,771.1 891.7,770.2 892.7,769.3 893.7,768.4 894.7,767.5 895.7,766.6 896.7,765.6 897.7,764.7 898.7,763.7 899.7,762.7 900.7,761.7 901.7,760.7 902.7,759.7 903.7,758.7 904.7,757.7 905.7,756.6 906.7,755.6 907.7,754.6 908.7,753.7 909.7,752.7 910.7,751.8 911.7,750.8 912.7,749.9 913.7,749.1 914.7,748.3 915.7,747.5 916.7,746.7 917.7,746.0 918.7,745.4 919.7,744.8 920.7,744.3 921.7,743.8 922.7,743.4 923.7,743.0 924.7,742.8 925.7,742.6 926.7,742.4 927.7,742.4 928.7,742.4 929.7,742.5 930.7,742.7 931.7,743.0 932.7,743.4 933.7,743.8 934.7,744.4 935.7,745.0 936.7,745.7 937.7,746.5 938.7,747.3 939.7,748.2 940.7,749.2 941.7,750.2 942.7,751.3 943.7,752.4 944.7,753.6 945.7,754.8 946.7,756.0 947.7,757.2 948.7,758.5 949.7,759.8 950.7,761.0 951.7,762.3 952.7,763.6 953.7,764.8 954.7,766.1 955.7,767.3 956.7,768.5 957.7,769.7 958.7,770.9 959.7,772.0 960.7,773.1 961.7,774.2 962.7,775.2 963.7,776.2 964.7,777.2 965.7,778.2 966.7,779.1 967.7,780.0 968.7,780.8 969.7,781.6 970.7,782.4 971.7,783.1 972.7,783.8 973.7,784.5 974.7,785.2 975.7,785.8 976.7,786.4 977.7,786.9 978.7,787.5 979.7,788.0 980.7,788.5 981.7,788.9 982.7,789.4 983.7,789.8 984.7,790.2 985.7,790.5 986.7,790.9 987.7,791.3 988.7,791.6 989.7,791.9 990.7,792.2 991.7,792.5 992.7,792.7 993.7,793.0 994.7,793.3 995.7,793.5 996.7,793.7 997.7,794.0 998.7,794.2 999.7,794.4 1000.7,794.6 1001.7,794.8 1002.7,795.0 1003.7,795.1 1004.7,795.3 1005.7,795.5 1006.7,795.7 1007.7,795.8 1008.7,796.0 1009.7,796.1 1010.7,796.3 1011.7,796.4 1012.7,796.5 1013.7,796.7 1014.7,796.8 1015.7,796.9 1016.7,797.1 1017.7,797.2 1018.7,797.3 1019.7,797.4 1020.7,797.5 1021.7,797.6 1022.7,797.7 1023.7,797.8 1024.7,797.9 1025.7,798.0 1026.7,798.1 1027.7,798.2 1028.7,798.3 1029.7,798.4 1030.7,798.5 1031.7,798.6 1032.7,798.7 1033.7,798.8 1034.7,798.8 1035.7,798.9 1036.7,799.0 1037.7,799.1 1038.7,799.1 1039.7,799.2 1040.7,799.3 1041.7,799.4 1042.7,799.4 1043.7,799.5 1044.7,799.6 1045.7,799.6 1046.7,799.7 1047.7,799.7 1048.7,799.8 1049.7,799.9 1050.7,799.9 1051.7,800.0 1052.7,800.0 1053.7,800.1 1054.7,800.1 1055.7,800.2 1056.7,800.2 1057.7,800.3 1058.7,800.3 1059.7,800.3 1060.7,800.3 1061.7,800.3" fill="none" stroke="#000" stroke-width="2.0" stroke-linejoin="round" />
<polyline points="614.7,799.2 615.7,799.2 616.7,799.2 617.7,799.2 618.7,799.2 619.7,799.2 620.7,799.1 621.7,799.1 622.7,799.1 623.7,799.1 624.7,799.1 625.7,799.0 626.7,799.0 627.7,799.0 628.7,799.0 629.7,799.0 630.7,799.0 631.7,798.9 632.7,798.9 633.7,798.9 634.7,798.9 635.7,798.9 636.7,798.8 637.7,798.8 638.7,798.8 639.7,798.8 640.7,798.8 641.7,798.7 642.7,798.7 643.7,798.7 644.7,798.7 645.7,798.7 646.7,798.6 647.7,798.6 648.7,798.6 649.7,798.6 650.7,798.5 651.7,798.5 652.7,798.5 653.7,798.5 654.7,798.5 655.7,798.4 656.7,798.4 657.7,798.4 658.7,798.4 659.7,798.3 660.7,798.3 661.7,798.3 662.7,798.3 663.7,798.2 664.7,798.2 665.7,798.2 666.7,798.2 667.7,798.1 668.7,798.1 669.7,798.1 670.7,798.1 671.7,798.0 672.7,798.0 673.7,798.0 674.7,797.9 675.7,797.9 676.7,797.9 677.7,797.9 678.7,797.8 679.7,797.8 680.7,797.8 681.7,797.7 682.7,797.7 683.7,797.7 684.7,797.6 685.7,797.6 686.7,797.6 687.7,797.5 688.7,797.5 689.7,797.5 690.7,797.4 691.7,797.4 692.7,797.4 693.7,797.3 694.7,797.3 695.7,797.3 696.7,797.2 697.7,797.2 698.7,797.1 699.7,797.1 700.7,797.1 701.7,797.0 702.7,797.0 703.7,796.9 704.7,796.9 705.7,796.9 706.7,796.8 707.7,796.8 708.7,796.7 709.7,796.7 710.7,796.6 711.7,796.6 712.7,796.5 713.7,796.5 714.7,796.5 715.7,796.4 716.7,796.4 717.7,796.3 718.7,796.3 719.7,796.2 720.7,796.1 721.7,796.1 722.7,796.0 723.7,796.0 724.7,795.9 725.7,795.9 726.7,795.8 727.7,795.7 728.7,795.7 729.7,795.6 730.7,795.6 731.7,795.5 732.7,795.4 733.7,795.4 734.7,795.3 735.7,795.2 736.7,795.2 737.7,795.1 738.7,795.0 739.7,795.0 740.7,794.9 741.7,794.8 742.7,794.7 743.7,794.7 744.7,794.6 745.7,794.5 746.7,794.4 747.7,794.3 748.7,794.2 749.7,794.2 750.7,794.1 751.7,794.0 752.7,793.9 753.7,793.8 754.7,793.7 755.7,793.6 756.7,793.5 757.7,793.4 758.7,793.3 759.7,793.2 760.7,793.1 761.7,793.0 762.7,792.9 763.7,792.7 764.7,792.6 765.7,792.5 766.7,792.4 767.7,792.3 768.7,792.1 769.7,792.0 770.7,791.9 771.7,791.8 772.7,791.6 773.7,791.5 774.7,791.3 775.7,791.2 776.7,791.0 777.7,790.9 778.7,790.7 779.7,790.6 780.7,790.4 781.7,790.2 782.7,790.1 783.7,789.9 784.7,789.7 785.7,789.6 786.7,789.4 787.7,789.2 788.7,789.0 789.7,788.8 790.7,788.6 791.7,788.4 792.7,788.2 793.7,788.0 794.7,787.7 795.7,787.5 796.7,787.3 797.7,787.0 798.7,786.8 799.7,786.5 800.7,786.3 801.7,786.0 802.7,785.8 803.7,785.5 804.7,785.2 805.7,784.9 806.7,784.6 807.7,784.3 808.7,784.0 809.7,783.7 810.7,783.4 811.7,783.1 812.7,782.7 813.7,782.4 814.7,782.0 815.7,781.7 816.7,781.3 817.7,780.9 818.7,780.6 819.7,780.2 820.7,779.8 821.7,779.3 822.7,778.9 823.7,778.5 824.7,778.0 825.7,777.6 826.7,777.1 827.7,776.6 828.7,776.1 829.7,775.6 830.7,775.1 831.7,774.6 832.7,774.1 833.7,773.5 834.7,772.9 835.7,772.4 836.7,771.8 837.7,771.2 838.7,770.6 839.7,769.9 840.7,769.3 841.7,768.6 842.7,767.9 843.7,767.2 844.7,766.5 845.7,765.8 846.7,765.0 847.7,764.2 848.7,763.4 849.7,762.6 850.7,761.8 851.7,760.9 852.7,760.0 853.7,759.1 854.7,758.2 855.7,757.2 856.7,756.2 857.7,755.2 858.7,754.2 859.7,753.1 860.7,752.0 861.7,750.9 862.7,749.7 863.7,748.5 864.7,747.2 865.7,746.0 866.7,744.6 867.7,743.3 868.7,741.9 869.7,740.4 870.7,738.9 871.7,737.4 872.7,735.8 873.7,734.2 874.7,732.5 875.7,730.7 876.7,728.9 877.7,727.0 878.7,725.1 879.7,723.1 880.7,721.1 881.7,719.0 882.7,716.8 883.7,714.6 884.7,712.3 885.7,709.9 886.7,707.4 887.7,704.9 888.7,702.3 889.7,699.7 890.7,697.0 891.7,694.2 892.7,691.3 893.7,688.4 894.7,685.4 895.7,682.4 896.7,679.3 897.7,676.1 898.7,672.9 899.7,669.6 900.7,666.2 901.7,662.9 902.7,659.4 903.7,656.0 904.7,652.5 905.7,649.0 906.7,645.4 907.7,641.9 908.7,638.3 909.7,634.7 910.7,631.2 911.7,627.6 912.7,624.1 913.7,620.6 914.7,617.1 915.7,613.6 916.7,610.3 917.7,606.9 918.7,603.7 919.7,600.5 920.7,597.4 921.7,594.3 922.7,591.4 923.7,588.6 924.7,585.9 925.7,583.3 926.7,580.9 927.7,578.6 928.7,576.5 929.7,574.5 930.7,572.7 931.7,571.0 932.7,569.5 933.7,568.2 934.7,567.1 935.7,566.2 936.7,565.5 937.7,564.9 938.7,564.6 939.7,564.5 940.7,564.6 941.7,564.9 942.7,565.4 943.7,566.2 944.7,567.1 945.7,568.3 946.7,569.6 947.7,571.2 948.7,573.0 949.7,574.9 950.7,577.1 951.7,579.4 952.7,582.0 953.7,584.7 954.7,587.6 955.7,590.6 956.7,593.8 957.7,597.1 958.7,600.6 959.7,604.2 960.7,607.9 961.7,611.7 962.7,615.6 963.7,619.6 964.7,623.7 965.7,627.9 966.7,632.1 967.7,636.3 968.7,640.6 969.7,644.9 970.7,649.2 971.7,653.6 972.7,657.9 973.7,662.2 974.7,666.5 975.7,670.8 976.7,675.1 977.7,679.2 978.7,683.4 979.7,687.5 980.7,691.5 981.7,695.5 982.7,699.4 983.7,703.2 984.7,706.9 985.7,710.5 986.7,714.1 987.7,717.5 988.7,720.9 989.7,724.1 990.7,727.3 991.7,730.3 992.7,733.3 993.7,736.2 994.7,738.9 995.7,741.6 996.7,744.1 997.7,746.6 998.7,748.9 999.7,751.2 1000.7,753.3 1001.7,755.4 1002.7,757.4 1003.7,759.3 1004.7,761.1 1005.7,762.8 1006.7,764.4 1007.7,766.0 1008.7,767.5 1009.7,768.9 1010.7,770.2 1011.7,771.5 1012.7,772.7 1013.7,773.8 1014.7,774.9 1015.7,775.9 1016.7,776.9 1017.7,777.8 1018.7,778.7 1019.7,779.5 1020.7,780.3 1021.7,781.0 1022.7,781.7 1023.7,782.4 1024.7,783.0 1025.7,783.6 1026.7,784.2 1027.7,784.7 1028.7,785.2 1029.7,785.7 1030.7,786.2 1031.7,786.6 1032.7,787.0 1033.7,787.4 1034.7,787.8 1035.7,788.2 1036.7,788.5 1037.7,788.8 1038.7,789.2 1039.7,789.5 1040.7,789.8 1041.7,790.0 1042.7,790.3 1043.7,790.6 1044.7,790.8 1045.7,791.1 1046.7,791.3 1047.7,791.5 1048.7,791.7 1049.7,792.0 1050.7,792.2 1051.7,792.4 1052.7,792.6 1053.7,792.7 1054.7,792.9 1055.7,793.1 1056.7,793.3 1057.7,793.5 1058.7,793.6 1059.7,793.8 1060.7,793.9 1061.7,794.0" fill="none" stroke="#008000" stroke-width="2.0" stroke-linejoin="round" />
<polyline points="614.7,799.1 615.7,799.0 616.7,799.0 617.7,799.0 618.7,799.0 619.7,799.0 620.7,798.9 621.7,798.9 622.7,798.9 623.7,798.9 624.7,798.8 625.7,798.8 626.7,798.8 627.7,798.8 628.7,798.7 629.7,798.7 630.7,798.7 631.7,798.7 632.7,798.6 633.7,798.6 634.7,798.6 635.7,798.6 636.7,798.5 637.7,798.5 638.7,798.5 639.7,798.5 640.7,798.4 641.7,798.4 642.7,798.4 643.7,798.3 644.7,798.3 645.7,798.3 646.7,798.3 647.7,798.2 648.7,798.2 649.7,798.2 650.7,798.1 651.7,798.1 652.7,798.1 653.7,798.0 654.7,798.0 655.7,798.0 656.7,797.9 657.7,797.9 658.7,797.9 659.7,797.8 660.7,797.8 661.7,797.8 662.7,797.7 663.7,797.7 664.7,797.6 665.7,797.6 666.7,797.6 667.7,797.5 668.7,797.5 669.7,797.4 670.7,797.4 671.7,797.4 672.7,797.3 673.7,797.3 674.7,797.2 675.7,797.2 676.7,797.1 677.7,797.1 678.7,797.1 679.7,797.0 680.7,797.0 681.7,796.9 682.7,796.9 683.7,796.8 684.7,796.8 685.7,796.7 686.7,796.7 687.7,796.6 688.7,796.6 689.7,796.5 690.7,796.4 691.7,796.4 692.7,796.3 693.7,796.3 694.7,796.2 695.7,796.2 696.7,796.1 697.7,796.0 698.7,796.0 699.7,795.9 700.7,795.9 701.7,795.8 702.7,795.7 703.7,795.7 704.7,795.6 705.7,795.5 706.7,795.4 707.7,795.4 708.7,795.3 709.7,795.2 710.7,795.2 711.7,795.1 712.7,795.0 713.7,794.9 714.7,794.8 715.7,794.8 716.7,794.7 717.7,794.6 718.7,794.5 719.7,794.4 720.7,794.3 721.7,794.2 722.7,794.1 723.7,794.1 724.7,794.0 725.7,793.9 726.7,793.8 727.7,793.7 728.7,793.6 729.7,793.5 730.7,793.4 731.7,793.2 732.7,793.1 733.7,793.0 734.7,792.9 735.7,792.8 736.7,792.7 737.7,792.6 738.7,792.4 739.7,792.3 740.7,792.2 741.7,792.1 742.7,791.9 743.7,791.8 744.7,791.6 745.7,791.5 746.7,791.4 747.7,791.2 748.7,791.1 749.7,790.9 750.7,790.8 751.7,790.6 752.7,790.4 753.7,790.3 754.7,790.1 755.7,789.9 756.7,789.8 757.7,789.6 758.7,789.4 759.7,789.2 760.7,789.0 761.7,788.8 762.7,788.6 763.7,788.4 764.7,788.2 765.7,788.0 766.7,787.8 767.7,787.6 768.7,787.4 769.7,787.1 770.7,786.9 771.7,786.7 772.7,786.4 773.7,786.2 774.7,785.9 775.7,785.6 776.7,785.4 777.7,785.1 778.7,784.8 779.7,784.5 780.7,784.2 781.7,783.9 782.7,783.6 783.7,783.3 784.7,783.0 785.7,782.7 786.7,782.4 787.7,782.0 788.7,781.7 789.7,781.3 790.7,781.0 791.7,780.6 792.7,780.2 793.7,779.8 794.7,779.4 795.7,779.0 796.7,778.6 797.7,778.2 798.7,777.7 799.7,777.3 800.7,776.8 801.7,776.4 802.7,775.9 803.7,775.4 804.7,774.9 805.7,774.4 806.7,773.9 807.7,773.4 808.7,772.9 809.7,772.3 810.7,771.8 811.7,771.2 812.7,770.6 813.7,770.0 814.7,769.4 815.7,768.8 816.7,768.2 817.7,767.6 818.7,766.9 819.7,766.3 820.7,765.6 821.7,764.9 822.7,764.2 823.7,763.5 824.7,762.8 825.7,762.0 826.7,761.3 827.7,760.5 828.7,759.8 829.7,759.0 830.7,758.2 831.7,757.4 832.7,756.5 833.7,755.7 834.7,754.8 835.7,754.0 836.7,753.1 837.7,752.2 838.7,751.2 839.7,750.3 840.7,749.3 841.7,748.3 842.7,747.3 843.7,746.3 844.7,745.2 845.7,744.2 846.7,743.0 847.7,741.9 848.7,740.7 849.7,739.5 850.7,738.2 851.7,736.9 852.7,735.6 853.7,734.2 854.7,732.8 855.7,731.3 856.7,729.8 857.7,728.2 858.7,726.6 859.7,724.8 860.7,723.1 861.7,721.2 862.7,719.3 863.7,717.3 864.7,715.3 865.7,713.1 866.7,710.9 867.7,708.6 868.7,706.2 869.7,703.8 870.7,701.2 871.7,698.6 872.7,695.8 873.7,693.0 874.7,690.1 875.7,687.0 876.7,683.9 877.7,680.7 878.7,677.4 879.7,674.1 880.7,670.6 881.7,667.0 882.7,663.4 883.7,659.6 884.7,655.8 885.7,651.9 886.7,647.9 887.7,643.8 888.7,639.7 889.7,635.5 890.7,631.2 891.7,626.9 892.7,622.5 893.7,618.1 894.7,613.6 895.7,609.1 896.7,604.6 897.7,600.0 898.7,595.4 899.7,590.8 900.7,586.2 901.7,581.6 902.7,576.9 903.7,572.3 904.7,567.8 905.7,563.2 906.7,558.7 907.7,554.3 908.7,549.8 909.7,545.5 910.7,541.2 911.7,537.0 912.7,532.9 913.7,528.9 914.7,525.0 915.7,521.2 916.7,517.6 917.7,514.0 918.7,510.6 919.7,507.4 920.7,504.3 921.7,501.4 922.7,498.6 923.7,496.0 924.7,493.6 925.7,491.4 926.7,489.4 927.7,487.5 928.7,485.9 929.7,484.5 930.7,483.3 931.7,482.2 932.7,481.4 933.7,480.8 934.7,480.5 935.7,480.3 936.7,480.3 937.7,480.6 938.7,481.1 939.7,481.8 940.7,482.7 941.7,483.9 942.7,485.2 943.7,486.8 944.7,488.7 945.7,490.7 946.7,493.0 947.7,495.5 948.7,498.2 949.7,501.2 950.7,504.4 951.7,507.8 952.7,511.5 953.7,515.3 954.7,519.4 955.7,523.7 956.7,528.2 957.7,533.0 958.7,537.9 959.7,543.0 960.7,548.2 961.7,553.7 962.7,559.3 963.7,565.0 964.7,570.8 965.7,576.8 966.7,582.9 967.7,589.0 968.7,595.3 969.7,601.5 970.7,607.8 971.7,614.2 972.7,620.5 973.7,626.8 974.7,633.1 975.7,639.3 976.7,645.5 977.7,651.6 978.7,657.6 979.7,663.5 980.7,669.3 981.7,675.0 982.7,680.6 983.7,686.0 984.7,691.2 985.7,696.3 986.7,701.2 987.7,706.0 988.7,710.6 989.7,715.0 990.7,719.2 991.7,723.3 992.7,727.2 993.7,730.9 994.7,734.4 995.7,737.8 996.7,741.0 997.7,744.0 998.7,746.9 999.7,749.6 1000.7,752.2 1001.7,754.6 1002.7,756.9 1003.7,759.1 1004.7,761.1 1005.7,763.0 1006.7,764.8 1007.7,766.5 1008.7,768.1 1009.7,769.6 1010.7,771.0 1011.7,772.3 1012.7,773.5 1013.7,774.7 1014.7,775.8 1015.7,776.8 1016.7,777.7 1017.7,778.6 1018.7,779.4 1019.7,780.2 1020.7,780.9 1021.7,781.6 1022.7,782.3 1023.7,782.9 1024.7,783.5 1025.7,784.0 1026.7,784.5 1027.7,785.0 1028.7,785.4 1029.7,785.9 1030.7,786.3 1031.7,786.7 1032.7,787.0 1033.7,787.4 1034.7,787.7 1035.7,788.0 1036.7,788.3 1037.7,788.6 1038.7,788.9 1039.7,789.1 1040.7,789.4 1041.7,789.6 1042.7,789.9 1043.7,790.1 1044.7,790.3 1045.7,790.5 1046.7,790.7 1047.7,790.9 1048.7,791.1 1049.7,791.2 1050.7,791.4 1051.7,791.6 1052.7,791.7 1053.7,791.9 1054.7,792.0 1055.7,792.2 1056.7,792.3 1057.7,792.5 1058.7,792.6 1059.7,792.7 1060.7,792.8 1061.7,792.9" fill="none" stroke="#FF0000" stroke-width="2.0" stroke-linejoin="round" />
<rect x="600.10" y="447.00" width="463.60" height="354.80" fill="none" stroke="#000" stroke-width="3.5"/>
<line x1="600.10" y1="801.80" x2="600.10" y2="809.30" stroke="#000" stroke-width="3.4"/>
<line x1="658.05" y1="801.80" x2="658.05" y2="809.30" stroke="#000" stroke-width="3.4"/>
<line x1="716.00" y1="801.80" x2="716.00" y2="809.30" stroke="#000" stroke-width="3.4"/>
<line x1="773.95" y1="801.80" x2="773.95" y2="809.30" stroke="#000" stroke-width="3.4"/>
<line x1="831.90" y1="801.80" x2="831.90" y2="809.30" stroke="#000" stroke-width="3.4"/>
<line x1="889.85" y1="801.80" x2="889.85" y2="809.30" stroke="#000" stroke-width="3.4"/>
<line x1="947.80" y1="801.80" x2="947.80" y2="809.30" stroke="#000" stroke-width="3.4"/>
<line x1="1005.75" y1="801.80" x2="1005.75" y2="809.30" stroke="#000" stroke-width="3.4"/>
<line x1="1063.70" y1="801.80" x2="1063.70" y2="809.30" stroke="#000" stroke-width="3.4"/>
<line x1="629.07" y1="801.80" x2="629.07" y2="806.30" stroke="#000" stroke-width="3.4"/>
<line x1="687.02" y1="801.80" x2="687.02" y2="806.30" stroke="#000" stroke-width="3.4"/>
<line x1="744.98" y1="801.80" x2="744.98" y2="806.30" stroke="#000" stroke-width="3.4"/>
<line x1="802.93" y1="801.80" x2="802.93" y2="806.30" stroke="#000" stroke-width="3.4"/>
<line x1="860.87" y1="801.80" x2="860.87" y2="806.30" stroke="#000" stroke-width="3.4"/>
<line x1="918.82" y1="801.80" x2="918.82" y2="806.30" stroke="#000" stroke-width="3.4"/>
<line x1="976.77" y1="801.80" x2="976.77" y2="806.30" stroke="#000" stroke-width="3.4"/>
<line x1="1034.72" y1="801.80" x2="1034.72" y2="806.30" stroke="#000" stroke-width="3.4"/>
<text transform="translate(578.65,832.10) scale(0.9582,1)" x="-1.52" y="0" font-size="24.13" font-family='"Liberation Sans", sans-serif' font-weight="bold" fill="#000">1.55</text>
<text transform="translate(636.75,832.10) scale(0.9582,1)" x="-1.52" y="0" font-size="24.13" font-family='"Liberation Sans", sans-serif' font-weight="bold" fill="#000">1.60</text>
<text transform="translate(694.55,832.10) scale(0.9582,1)" x="-1.52" y="0" font-size="24.13" font-family='"Liberation Sans", sans-serif' font-weight="bold" fill="#000">1.65</text>
<text transform="translate(752.65,832.10) scale(0.9582,1)" x="-1.52" y="0" font-size="24.13" font-family='"Liberation Sans", sans-serif' font-weight="bold" fill="#000">1.70</text>
<text transform="translate(810.45,832.10) scale(0.9582,1)" x="-1.52" y="0" font-size="24.13" font-family='"Liberation Sans", sans-serif' font-weight="bold" fill="#000">1.75</text>
<text transform="translate(868.55,832.10) scale(0.9582,1)" x="-1.52" y="0" font-size="24.13" font-family='"Liberation Sans", sans-serif' font-weight="bold" fill="#000">1.80</text>
<text transform="translate(926.35,832.10) scale(0.9582,1)" x="-1.52" y="0" font-size="24.13" font-family='"Liberation Sans", sans-serif' font-weight="bold" fill="#000">1.85</text>
<text transform="translate(984.45,832.10) scale(0.9582,1)" x="-1.52" y="0" font-size="24.13" font-family='"Liberation Sans", sans-serif' font-weight="bold" fill="#000">1.90</text>
<text transform="translate(1042.25,832.10) scale(0.9582,1)" x="-1.52" y="0" font-size="24.13" font-family='"Liberation Sans", sans-serif' font-weight="bold" fill="#000">1.95</text>
<text transform="translate(542.90,473.90) scale(1.0675,1)" x="-1.59" y="0" font-size="36.17" font-family='"Liberation Serif", serif' font-weight="bold" fill="#000">(d)</text>
<text transform="translate(583.00,728.20) rotate(-90) scale(0.9380,1)" x="-2.10" y="0" font-size="31.40" font-family='"Liberation Sans", sans-serif' font-weight="bold" fill="#000">PL Intensity (a.u)</text>
<text transform="translate(746.50,865.50) scale(1.0006,1)" x="-1.90" y="0" font-size="28.34" font-family='"Liberation Sans", sans-serif' font-weight="bold" fill="#000">Energy (eV)</text>
<rect x="612.6" y="452.8" width="232.5" height="112" fill="#fff" stroke="#222" stroke-width="1.5"/>
<line x1="618.50" y1="472.80" x2="658.10" y2="472.80" stroke="#FF0000" stroke-width="2.4" />
<line x1="618.50" y1="509.50" x2="658.10" y2="509.50" stroke="#008000" stroke-width="2.4" />
<line x1="618.50" y1="547.70" x2="658.10" y2="547.70" stroke="#000" stroke-width="2.4" />
<text transform="translate(664.60,477.40) scale(1.0149,1)" x="-1.60" y="0" font-size="23.98" font-family='"Liberation Sans", sans-serif' font-weight="bold" fill="#000">MoS</text>
<text transform="translate(714.60,485.10) scale(1.0686,1)" x="-0.57" y="0" font-size="16.33" font-family='"Liberation Sans", sans-serif' font-weight="bold" fill="#000">2</text>
<text transform="translate(723.00,477.40) scale(1.0105,1)" x="-0.23" y="0" font-size="23.98" font-family='"Liberation Sans", sans-serif' font-weight="bold" fill="#000">/Flat Si</text>
<text transform="translate(664.60,515.30) scale(1.0028,1)" x="-1.62" y="0" font-size="24.27" font-family='"Liberation Sans", sans-serif' font-weight="bold" fill="#000">MoS</text>
<text transform="translate(714.60,523.00) scale(1.0686,1)" x="-0.57" y="0" font-size="16.33" font-family='"Liberation Sans", sans-serif' font-weight="bold" fill="#000">2</text>
<text transform="translate(723.00,515.30) scale(0.9873,1)" x="-0.24" y="0" font-size="24.27" font-family='"Liberation Sans", sans-serif' font-weight="bold" fill="#000">/Pattern Si</text>
<text transform="translate(664.60,553.00) scale(1.0028,1)" x="-1.62" y="0" font-size="24.27" font-family='"Liberation Sans", sans-serif' font-weight="bold" fill="#000">MoS</text>
<text transform="translate(714.60,560.70) scale(1.0686,1)" x="-0.57" y="0" font-size="16.33" font-family='"Liberation Sans", sans-serif' font-weight="bold" fill="#000">2</text>
<text transform="translate(723.00,553.00) scale(0.9815,1)" x="-0.24" y="0" font-size="24.27" font-family='"Liberation Sans", sans-serif' font-weight="bold" fill="#000">/Metal</text>
<text transform="translate(955.80,483.80) scale(0.9858,1)" x="-1.51" y="0" font-size="23.98" font-family='"Liberation Sans", sans-serif' font-weight="bold" fill="#FF0000">1,831 eV</text>
<text transform="translate(966.70,570.40) scale(0.9737,1)" x="-1.50" y="0" font-size="23.84" font-family='"Liberation Sans", sans-serif' font-weight="bold" fill="#008000">1,843 eV</text>
<text transform="translate(889.40,733.00) scale(0.9022,1)" x="-1.62" y="0" font-size="25.73" font-family='"Liberation Sans", sans-serif' font-weight="bold" fill="#000">1,839 eV</text>
</svg>
</body></html>
